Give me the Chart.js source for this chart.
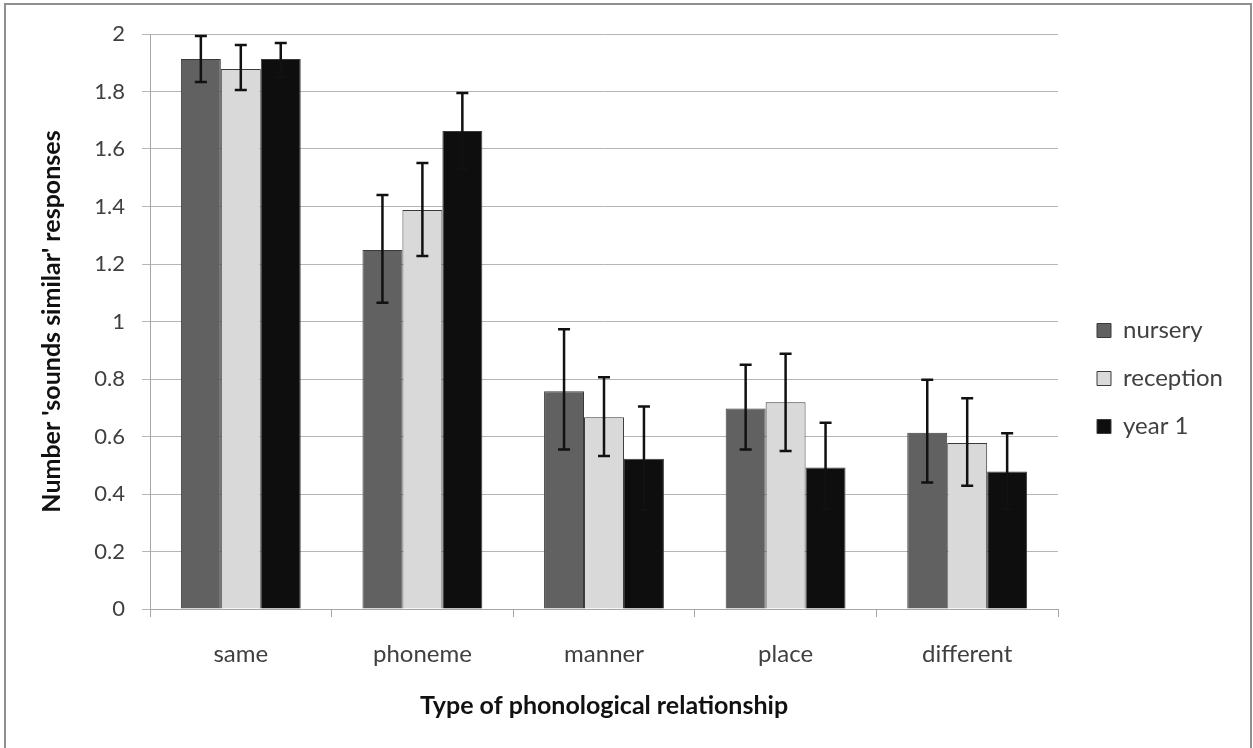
<!DOCTYPE html>
<html>
<head>
<meta charset="utf-8">
<script src="https://cdn.jsdelivr.net/npm/chart.js@4"></script>
<style>
  body { margin: 0; background: #fff; }
  #wrap { position: relative; width: 1253px; height: 748px; }
  #frame { position: absolute; left: 4px; top: 3px; width: 1244px; height: 760px;
           border: 2px solid #8f8f8f; pointer-events: none; }
</style>
</head>
<body>
<div id="wrap">
  <canvas id="chart" width="1253" height="748"></canvas>
  <div id="frame"></div>
</div>
<script>
const categories = ["same", "phoneme", "manner", "place", "different"];

const nursery = [1.913, 1.249, 0.757, 0.697, 0.613];
const nurseryLow = [1.833, 1.065, 0.555, 0.555, 0.44];
const nurseryHigh = [1.993, 1.44, 0.973, 0.85, 0.797];

const reception = [1.878, 1.388, 0.667, 0.719, 0.577];
const receptionLow = [1.805, 1.228, 0.532, 0.55, 0.429];
const receptionHigh = [1.962, 1.551, 0.806, 0.888, 0.733];

const year1 = [1.913, 1.663, 0.523, 0.492, 0.478];
const year1Low = [1.85, 1.53, 0.344, 0.348, 0.348];
const year1High = [1.969, 1.795, 0.704, 0.648, 0.611];

const yTicks = [0, 0.2, 0.4, 0.6, 0.8, 1, 1.2, 1.4, 1.6, 1.8, 2];

const errLows = [nurseryLow, receptionLow, year1Low];
const errHighs = [nurseryHigh, receptionHigh, year1High];

const font = "Lato, 'Open Sans', sans-serif";

// error bars drawn on top of the bars
const errorBars = {
  id: "errorBars",
  afterDatasetsDraw(chart) {
    const ctx = chart.ctx;
    const y = chart.scales.y;
    ctx.save();
    ctx.strokeStyle = "#111";
    ctx.lineWidth = 2.5;
    chart.data.datasets.forEach((ds, d) => {
      const meta = chart.getDatasetMeta(d);
      meta.data.forEach((bar, i) => {
        const top = y.getPixelForValue(errHighs[d][i]);
        const bot = y.getPixelForValue(errLows[d][i]);
        ctx.beginPath();
        ctx.moveTo(bar.x, top);
        ctx.lineTo(bar.x, bot);
        ctx.moveTo(bar.x - 6, top);
        ctx.lineTo(bar.x + 6, top);
        ctx.moveTo(bar.x - 6, bot);
        ctx.lineTo(bar.x + 6, bot);
        ctx.stroke();
      });
    });
    ctx.restore();
  },
};

// fixed legend width so the plot ends where the original does,
// then push the legend a bit to the right of the plot
const legendBox = {
  id: "legendBox",
  beforeLayout(chart) {
    const lg = chart.legend;
    if (lg && !lg._fixed) {
      const fit = lg.fit;
      lg.fit = function () {
        fit.call(this);
        this.width = 175;
      };
      lg._fixed = true;
    }
  },
  afterUpdate(chart) {
    chart.legend.left += 15;
    chart.legend.top += 2;
  },
};

new Chart(document.getElementById("chart"), {
  type: "bar",
  data: {
    labels: categories,
    datasets: [
      { label: "nursery", data: nursery, backgroundColor: "#616161", borderColor: "#3a3a3a", borderWidth: 1 },
      { label: "reception", data: reception, backgroundColor: "#d9d9d9", borderColor: "#3a3a3a", borderWidth: 1 },
      { label: "year 1", data: year1, backgroundColor: "#0e0e0e", borderColor: "#3a3a3a", borderWidth: 1 },
    ],
  },
  options: {
    responsive: false,
    animation: false,
    layout: { padding: { top: 34, left: 10, bottom: 27, right: 20 } },
    datasets: { bar: { categoryPercentage: 0.66, barPercentage: 1 } },
    scales: {
      x: {
        grid: { offset: true, drawOnChartArea: false, color: "#a6a6a6", tickLength: 8 },
        border: { color: "#a6a6a6" },
        ticks: { color: "#404040", font: { family: font, size: 24 }, padding: 23 },
        title: {
          display: true,
          text: "Type of phonological relationship",
          color: "#111",
          font: { family: font, size: 25, weight: "bold" },
          padding: { top: 0, bottom: 0 },
        },
        afterFit(scale) { scale.height = 112; },
      },
      y: {
        min: 0,
        max: 2,
        afterBuildTicks(scale) { scale.ticks = yTicks.map((v) => ({ value: v })); },
        grid: { color: "#b5b5b5", tickLength: 8 },
        border: { color: "#a6a6a6" },
        ticks: {
          color: "#404040",
          font: { family: font, size: 22 },
          padding: 17,
          callback: (v) => String(+v.toFixed(1)),
        },
        title: {
          display: true,
          text: "Number 'sounds similar' responses",
          color: "#111",
          font: { family: font, size: 25, weight: "bold" },
          padding: { top: 27, bottom: 27 },
        },
        afterFit(scale) { scale.width = 140; },
      },
    },
    plugins: {
      legend: {
        position: "right",
        labels: {
          boxWidth: 14,
          boxHeight: 14,
          padding: 24,
          color: "#404040",
          font: { family: font, size: 24 },
        },
      },
      tooltip: { enabled: false },
    },
  },
  plugins: [errorBars, legendBox],
});
</script>
</body>
</html>
